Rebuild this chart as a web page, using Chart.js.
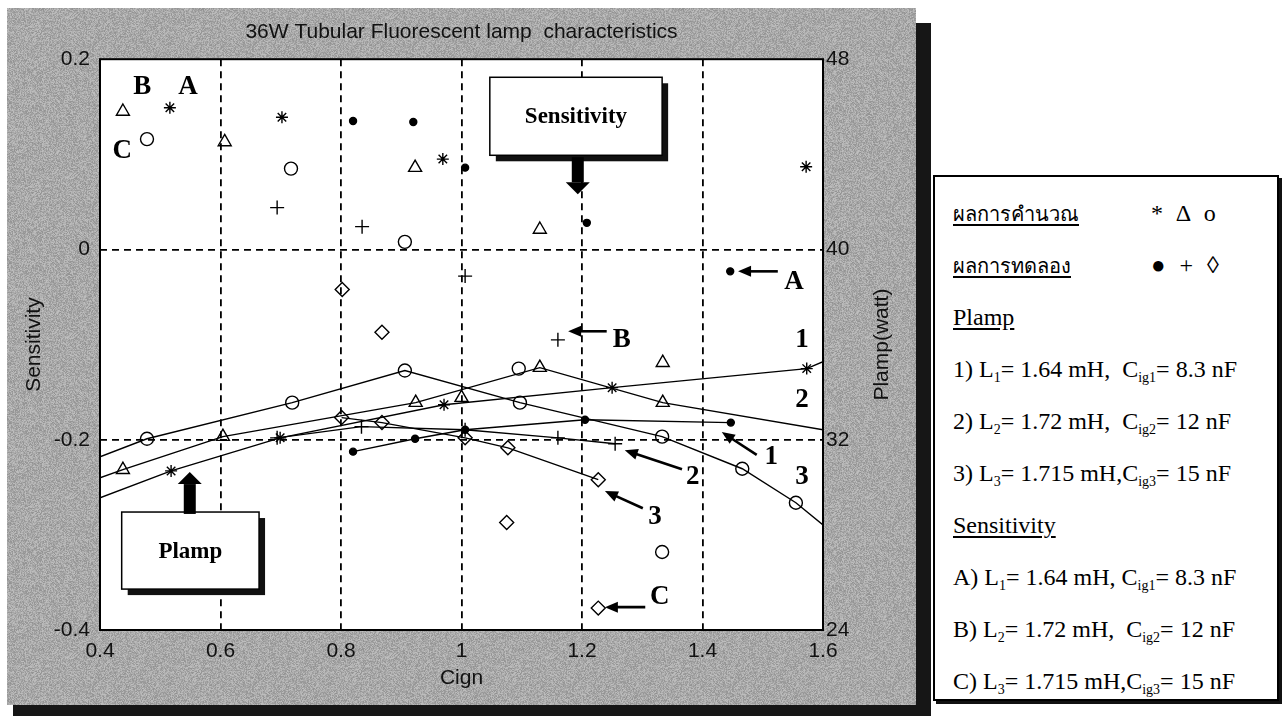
<!DOCTYPE html>
<html>
<head>
<meta charset="utf-8">
<script src="https://cdn.jsdelivr.net/npm/chart.js@4/dist/chart.umd.min.js"></script>
<style>
  body { margin: 0; width: 1287px; height: 716px; background: #fff; position: relative; overflow: hidden; }
  #shadow { position: absolute; left: 13px; top: 23px; width: 918px; height: 693px; background: #161616; }
  #frame { position: absolute; left: 7px; top: 8px; width: 909px; height: 697px; }
  #key {
    position: absolute; left: 933px; top: 175px; width: 346px; height: 526px;
    box-sizing: border-box; border: 2px solid #000; box-shadow: 3px 3px 0 #111; background: #fff;
    font-family: 'Liberation Serif', 'Times New Roman', serif; font-size: 24px; color: #000;
  }
  #key .row { position: absolute; left: 18px; height: 30px; line-height: 30px; white-space: nowrap; }
  #key .th { font-size: 20px; }
  #key .sym { position: absolute; left: 198px; word-spacing: 8px; }
  #key sub { font-size: 14px; vertical-align: -5px; line-height: 0; }
  #key u { text-underline-offset: 3px; }
</style>
</head>
<body>
<div id="shadow"></div>
<div id="frame"><canvas id="lampChart" width="909" height="697"></canvas></div>
<div id="key">
  <div class="row" style="top:21px"><u class="th">ผลการคำนวณ</u><span class="sym">* Δ o</span></div>
  <div class="row" style="top:73px"><u class="th">ผลการทดลอง</u><span class="sym">● + ◊</span></div>
  <div class="row" style="top:125px"><u>Plamp</u></div>
  <div class="row" style="top:177px">1) L<sub>1</sub>= 1.64 mH,&nbsp; C<sub>ig1</sub>= 8.3 nF</div>
  <div class="row" style="top:229px">2) L<sub>2</sub>= 1.72 mH,&nbsp; C<sub>ig2</sub>= 12 nF</div>
  <div class="row" style="top:281px">3) L<sub>3</sub>= 1.715 mH,C<sub>ig3</sub>= 15 nF</div>
  <div class="row" style="top:333px"><u>Sensitivity</u></div>
  <div class="row" style="top:385px">A) L<sub>1</sub>= 1.64 mH, C<sub>ig1</sub>= 8.3 nF</div>
  <div class="row" style="top:437px">B) L<sub>2</sub>= 1.72 mH,&nbsp; C<sub>ig2</sub>= 12 nF</div>
  <div class="row" style="top:489px">C) L<sub>3</sub>= 1.715 mH,C<sub>ig3</sub>= 15 nF</div>
</div>
<script>
// Sensitivity vs Cign -- calculated (A *, B triangle, C o) and measured (A dot, B +, C diamond)
const sensA_calcX = [0.516, 0.702, 0.969, 1.572];
const sensA_calc  = [0.149, 0.139, 0.095, 0.087];
const sensA_measX = [0.820, 0.920, 1.006, 1.208, 1.446];
const sensA_meas  = [0.135, 0.134, 0.086, 0.028, -0.023];
const sensB_calcX = [0.438, 0.607, 0.923, 1.130, 1.334];
const sensB_calc  = [0.145, 0.113, 0.086, 0.021, -0.119];
const sensB_measX = [0.694, 0.835, 1.006, 1.160];
const sensB_meas  = [0.044, 0.024, -0.028, -0.095];
const sensC_calcX = [0.478, 0.717, 0.906, 1.333];
const sensC_calc  = [0.116, 0.085, 0.008, -0.318];
const sensC_measX = [0.802, 0.868, 1.075, 1.227];
const sensC_meas  = [-0.042, -0.087, -0.287, -0.377];

// Lamp power (W) vs Cign, curves 1-3 (end points at 0.4 / 1.6 carry no marker)
const p1_calcX = [0.4, 0.518, 0.699, 0.971, 1.25, 1.573, 1.6];
const p1_calc  = [29.56, 30.69, 32.08, 33.47, 34.19, 34.99, 35.28];
const p1_measX = [0.820, 0.923, 1.006, 1.205, 1.447];
const p1_meas  = [31.50, 32.04, 32.42, 32.84, 32.72];
const p2_calcX = [0.4, 0.438, 0.604, 0.924, 1.130, 1.334, 1.6];
const p2_calc  = [30.40, 30.74, 32.13, 33.56, 35.03, 33.56, 32.42];
const p2_measX = [0.694, 0.834, 1.006, 1.160, 1.255];
const p2_meas  = [32.08, 32.55, 32.42, 32.08, 31.83];
const p3_calcX = [0.4, 0.478, 0.719, 0.906, 1.097, 1.333, 1.466, 1.555, 1.6];
const p3_calc  = [31.28, 32.04, 33.56, 34.91, 33.56, 32.13, 30.78, 29.35, 28.42];
const p3_measX = [0.801, 0.868, 1.006, 1.077, 1.227];
const p3_meas  = [32.93, 32.72, 32.08, 31.66, 30.32];
// loose markers sitting on the crossings near Cign = 1
const loneCircleX = [1.095];
const loneCircle  = [34.99];
const loneTriangleX = [1.0];
const loneTriangle  = [33.77];

const xTicks = [0.4, 0.6, 0.8, 1.0, 1.2, 1.4, 1.6];
const sensTicks = [-0.4, -0.2, 0, 0.2];
const plampTicks = [24, 32, 40, 48];

// callouts, in (Cign, Sensitivity) units
const tags = [
  { text: 'B', x: 0.470, y: 0.171 },
  { text: 'A', x: 0.546, y: 0.171 },
  { text: 'C', x: 0.437, y: 0.103 },
  { text: '1', x: 1.565, y: -0.095 },
  { text: '2', x: 1.565, y: -0.158 },
  { text: '3', x: 1.565, y: -0.239 }
];
const pointers = [
  { text: 'A', from: [1.525, -0.023], to: [1.459, -0.023], at: [1.552, -0.034] },
  { text: 'B', from: [1.241, -0.086], to: [1.177, -0.086], at: [1.266, -0.095] },
  { text: 'C', from: [1.305, -0.376], to: [1.238, -0.376], at: [1.329, -0.365] },
  { text: '1', from: [1.490, -0.216], to: [1.432, -0.192], at: [1.514, -0.218] },
  { text: '2', from: [1.366, -0.231], to: [1.271, -0.211], at: [1.384, -0.239] },
  { text: '3', from: [1.301, -0.272], to: [1.238, -0.254], at: [1.321, -0.281] }
];
const boxes = [
  { text: 'Sensitivity', x0: 1.047, x1: 1.333, y0: 0.181, y1: 0.099, arrow: { x: 1.193, from: 0.097, to: 0.058 } },
  { text: 'Plamp', x0: 0.436, x1: 0.664, y0: -0.276, y1: -0.357, arrow: { x: 0.549, from: -0.278, to: -0.234 } }
];

const pts = (xs, ys) => xs.map((x, i) => ({ x: x, y: ys[i] }));
const shapes = {
  star:     { pointStyle: 'star', r: 6, fill: false },
  dot:      { pointStyle: 'circle', r: 3.5, fill: true },
  triangle: { pointStyle: 'triangle', r: 7.5, fill: false },
  plus:     { pointStyle: 'cross', r: 7, fill: false },
  circle:   { pointStyle: 'circle', r: 6.5, fill: false },
  diamond:  { pointStyle: 'rectRot', r: 7, fill: false }
};

function series(xs, ys, axis, shape, line) {
  const s = shapes[shape];
  return {
    data: pts(xs, ys),
    yAxisID: axis,
    showLine: line,
    borderColor: '#000',
    borderWidth: 1.4,
    pointStyle: s.pointStyle,
    pointRadius: ctx => (ctx.raw && (ctx.raw.x <= 0.4 || ctx.raw.x >= 1.6)) ? 0 : s.r,
    pointBackgroundColor: s.fill ? '#000' : 'rgba(0,0,0,0)',
    pointBorderColor: '#000',
    pointBorderWidth: 1.4,
    fill: false
  };
}

function grain(ctx) {
  const c = document.createElement('canvas');
  c.width = c.height = 160;
  const g = c.getContext('2d');
  const img = g.createImageData(160, 160);
  let seed = 2024;
  for (let i = 0; i < img.data.length; i += 4) {
    seed = (Math.imul(seed, 1103515245) + 12345) >>> 0;
    const v = 146 + ((seed >>> 16) % 46);
    img.data[i] = img.data[i + 1] = img.data[i + 2] = v;
    img.data[i + 3] = 255;
  }
  g.putImageData(img, 0, 0);
  return ctx.createPattern(c, 'repeat');
}

function arrowHead(ctx, x1, y1, x2, y2, len, half) {
  const a = Math.atan2(y2 - y1, x2 - x1);
  ctx.beginPath();
  ctx.moveTo(x2, y2);
  ctx.lineTo(x2 - len * Math.cos(a) + half * Math.sin(a), y2 - len * Math.sin(a) - half * Math.cos(a));
  ctx.lineTo(x2 - len * Math.cos(a) - half * Math.sin(a), y2 - len * Math.sin(a) + half * Math.cos(a));
  ctx.closePath();
  ctx.fill();
}

const tickFont = { family: '"Liberation Sans", Arial, sans-serif', size: 21 };
const fmt = v => String(Math.round(v * 10) / 10);

const backdrop = {
  id: 'backdrop',
  beforeDraw(chart) {
    const { ctx, chartArea: a } = chart;
    ctx.save();
    ctx.fillStyle = grain(ctx);
    ctx.fillRect(0, 0, chart.width, chart.height);
    ctx.fillStyle = '#fff';
    ctx.fillRect(a.left, a.top, a.right - a.left, a.bottom - a.top);
    ctx.restore();
  }
};

const callouts = {
  id: 'callouts',
  afterDraw(chart) {
    const { ctx, chartArea: a } = chart;
    const sx = chart.scales.x, sy = chart.scales.y, s2 = chart.scales.y2;
    const P = (x, y) => [sx.getPixelForValue(x), sy.getPixelForValue(y)];
    ctx.save();
    // plot frame
    ctx.strokeStyle = '#000';
    ctx.lineWidth = 2;
    ctx.strokeRect(a.left, a.top, a.right - a.left, a.bottom - a.top);

    // right axis title, reading upwards like the left one
    ctx.save();
    ctx.translate(s2.right - 34, (a.top + a.bottom) / 2);
    ctx.rotate(-Math.PI / 2);
    ctx.fillStyle = '#111';
    ctx.textAlign = 'center';
    ctx.textBaseline = 'middle';
    ctx.font = '21px "Liberation Sans", Arial, sans-serif';
    ctx.fillText('Plamp(watt)', 0, 0);
    ctx.restore();

    ctx.fillStyle = '#000';
    ctx.textAlign = 'center';
    ctx.textBaseline = 'middle';
    ctx.font = 'bold 27px "Liberation Serif", serif';
    tags.forEach(t => {
      const [x, y] = P(t.x, t.y);
      ctx.fillText(t.text, x, y);
    });

    pointers.forEach(p => {
      const [x1, y1] = P(p.from[0], p.from[1]);
      const [x2, y2] = P(p.to[0], p.to[1]);
      const a2 = Math.atan2(y2 - y1, x2 - x1);
      ctx.lineWidth = 2.6;
      ctx.beginPath();
      ctx.moveTo(x1, y1);
      ctx.lineTo(x2 - 8 * Math.cos(a2), y2 - 8 * Math.sin(a2));
      ctx.stroke();
      arrowHead(ctx, x1, y1, x2, y2, 13, 5.5);
      const [lx, ly] = P(p.at[0], p.at[1]);
      ctx.fillText(p.text, lx, ly);
    });

    boxes.forEach(b => {
      const [bx0, by0] = P(b.x0, b.y0);
      const [bx1, by1] = P(b.x1, b.y1);
      const w = bx1 - bx0, h = by1 - by0;
      ctx.fillStyle = '#111';
      ctx.fillRect(bx0 + 6, by0 + 6, w, h);
      ctx.fillStyle = '#fff';
      ctx.fillRect(bx0, by0, w, h);
      ctx.lineWidth = 1.5;
      ctx.strokeStyle = '#000';
      ctx.strokeRect(bx0, by0, w, h);
      ctx.fillStyle = '#000';
      ctx.font = 'bold 23px "Liberation Serif", serif';
      ctx.fillText(b.text, bx0 + w / 2, by0 + h / 2 + 1);
      // thick block arrow
      const [ax, ay0] = P(b.arrow.x, b.arrow.from);
      const ay1 = sy.getPixelForValue(b.arrow.to);
      const dir = ay1 > ay0 ? 1 : -1;
      const headLen = 12;
      ctx.fillRect(ax - 6, Math.min(ay0, ay1 - dir * headLen), 12, Math.abs(ay1 - dir * headLen - ay0));
      ctx.beginPath();
      ctx.moveTo(ax, ay1);
      ctx.lineTo(ax - 12, ay1 - dir * headLen);
      ctx.lineTo(ax + 12, ay1 - dir * headLen);
      ctx.closePath();
      ctx.fill();
    });
    ctx.restore();
  }
};

const innerOnly = (lo, hi) => ctx => {
  const v = ctx.tick ? ctx.tick.value : null;
  return (v === null || Math.abs(v - lo) < 1e-6 || Math.abs(v - hi) < 1e-6) ? 'rgba(0,0,0,0)' : '#000';
};

new Chart(document.getElementById('lampChart'), {
  type: 'scatter',
  data: {
    datasets: [
      series(sensA_calcX, sensA_calc, 'y', 'star', false),
      series(sensA_measX, sensA_meas, 'y', 'dot', false),
      series(sensB_calcX, sensB_calc, 'y', 'triangle', false),
      series(sensB_measX, sensB_meas, 'y', 'plus', false),
      series(sensC_calcX, sensC_calc, 'y', 'circle', false),
      series(sensC_measX, sensC_meas, 'y', 'diamond', false),
      series(p1_calcX, p1_calc, 'y2', 'star', true),
      series(p1_measX, p1_meas, 'y2', 'dot', true),
      series(p2_calcX, p2_calc, 'y2', 'triangle', true),
      series(p2_measX, p2_meas, 'y2', 'plus', true),
      series(p3_calcX, p3_calc, 'y2', 'circle', true),
      series(p3_measX, p3_meas, 'y2', 'diamond', true),
      series(loneCircleX, loneCircle, 'y2', 'circle', false),
      series(loneTriangleX, loneTriangle, 'y2', 'triangle', false)
    ]
  },
  options: {
    responsive: false,
    animation: false,
    layout: { padding: 0 },
    plugins: {
      legend: { display: false },
      tooltip: { enabled: false },
      title: {
        display: true,
        text: '36W Tubular Fluorescent lamp  characteristics',
        color: '#111',
        font: { family: '"Liberation Sans", Arial, sans-serif', size: 21, weight: 'normal' },
        padding: { top: 12, bottom: 14 }
      }
    },
    scales: {
      x: {
        type: 'linear', min: 0.4, max: 1.6,
        afterBuildTicks: s => { s.ticks = xTicks.map(v => ({ value: v })); },
        afterFit: s => { s.height = 75; },
        grid: { color: innerOnly(0.4, 1.6), lineWidth: 1.8, drawTicks: false },
        border: { display: false, dash: [7, 5] },
        ticks: { color: '#111', font: tickFont, padding: 9, callback: fmt, maxRotation: 0 },
        title: { display: true, text: 'Cign', color: '#111', font: tickFont, padding: { top: 0, bottom: 14 } }
      },
      y: {
        type: 'linear', position: 'left', min: -0.4, max: 0.2,
        afterBuildTicks: s => { s.ticks = sensTicks.map(v => ({ value: v })); },
        afterFit: s => { s.width = 93; },
        grid: { color: innerOnly(-0.4, 0.2), lineWidth: 1.8, drawTicks: false },
        border: { display: false, dash: [7, 5] },
        ticks: { color: '#111', font: tickFont, padding: 10, callback: fmt },
        title: { display: true, text: 'Sensitivity', color: '#111', font: tickFont, padding: { top: 15, bottom: 0 } }
      },
      y2: {
        type: 'linear', position: 'right', min: 24, max: 48,
        afterBuildTicks: s => { s.ticks = plampTicks.map(v => ({ value: v })); },
        afterFit: s => { s.width = 93; },
        grid: { display: false, drawTicks: false },
        border: { display: false },
        ticks: { color: '#111', font: tickFont, padding: 3 }
      }
    }
  },
  plugins: [backdrop, callouts]
});
</script>
</body>
</html>
